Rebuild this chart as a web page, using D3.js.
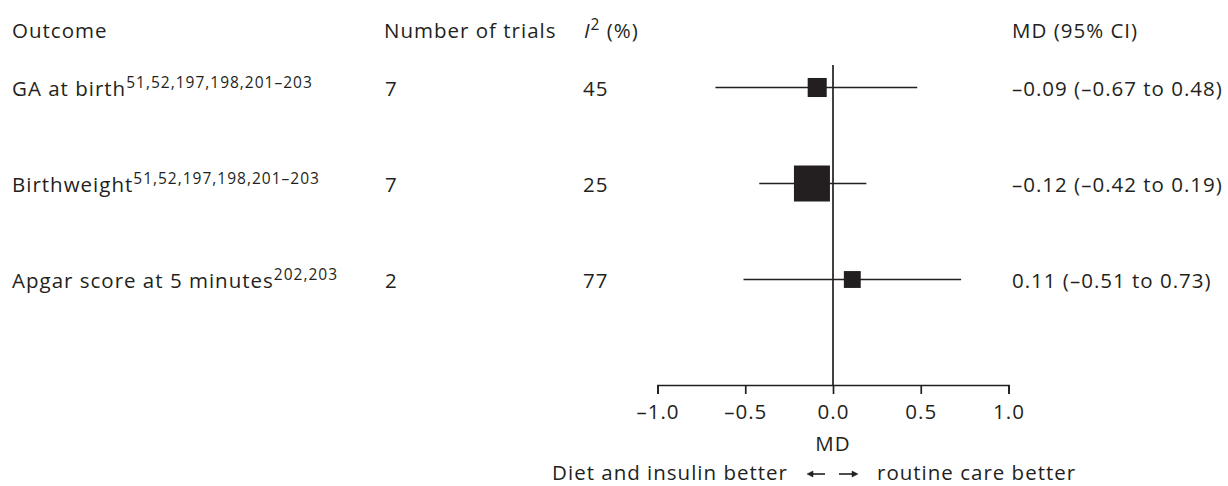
<!DOCTYPE html>
<html>
<head>
<meta charset="utf-8">
<script src="https://cdn.jsdelivr.net/npm/d3@7"></script>
<style>
  html, body { margin: 0; padding: 0; background: #fff; }
  text { font-family: "Open Sans", "DejaVu Sans", sans-serif; fill: #231f20; letter-spacing: 1px; }
</style>
</head>
<body>
<svg id="chart" width="1228" height="486"></svg>
<script>
const outcomes = ["GA at birth", "Birthweight", "Apgar score at 5 minutes"];
const references = ["51,52,197,198,201–203", "51,52,197,198,201–203", "202,203"];
const trials = [7, 7, 2];
const i2 = [45, 25, 77];
const md = [-0.09, -0.12, 0.11];
const lower = [-0.67, -0.42, -0.51];
const upper = [0.48, 0.19, 0.73];
const weights = [28, 100, 22];
const tickValues = [-1.0, -0.5, 0.0, 0.5, 1.0];
const headers = ["Outcome", "Number of trials", "(%)", "MD (95% CI)"];
const axisTitle = "MD";
const leftLabel = "Diet and insulin better";
const rightLabel = "routine care better";

const FS = 20.5;
const SUP = 15.5;
const ink = "#231f20";
const svg = d3.select("#chart");

const x = d3.scaleLinear().domain([-1, 1]).range([657.5, 1008.5]);
const y = d3.scalePoint().domain(outcomes).range([87.5, 279.5]);
const side = d3.scaleSqrt().domain([0, 100]).range([0, 36]);
const axisY = 385;

const fmt2 = v => d3.format(".2f")(v).replace("−", "–").replace("-", "–");

// headers
const hy = 37.5;
svg.append("text").attr("x", 12).attr("y", hy).attr("font-size", FS).text(headers[0]);
svg.append("text").attr("x", 384).attr("y", hy).attr("font-size", FS).text(headers[1]);
const ih = svg.append("text").attr("x", 584).attr("y", hy).attr("font-size", FS);
ih.append("tspan").attr("font-style", "italic").text("I");
ih.append("tspan").attr("font-size", SUP).attr("dy", -8).text("2");
ih.append("tspan").attr("dy", 8).text(" " + headers[2]);
svg.append("text").attr("x", 1012).attr("y", hy).attr("font-size", FS).text(headers[3]);

// rows
outcomes.forEach((o, i) => {
  const yy = y(o);
  const t = svg.append("text").attr("x", 12).attr("y", yy + 8).attr("font-size", FS);
  t.append("tspan").text(o);
  t.append("tspan").attr("font-size", SUP).attr("dy", -8).text(references[i]);
  svg.append("text").attr("x", 385).attr("y", yy + 8).attr("font-size", FS).text(trials[i]);
  svg.append("text").attr("x", 583).attr("y", yy + 8).attr("font-size", FS).text(i2[i]);
  svg.append("text").attr("x", 1012).attr("y", yy + 8).attr("font-size", FS)
    .text(`${fmt2(md[i])} (${fmt2(lower[i])} to ${fmt2(upper[i])})`);
});

// zero line
svg.append("line")
  .attr("x1", x(0)).attr("x2", x(0))
  .attr("y1", 65).attr("y2", axisY)
  .attr("stroke", ink).attr("stroke-width", 1.7);

// CI lines
svg.selectAll("line.ci").data(outcomes).enter().append("line")
  .attr("class", "ci")
  .attr("x1", (d, i) => x(lower[i])).attr("x2", (d, i) => x(upper[i]))
  .attr("y1", d => y(d)).attr("y2", d => y(d))
  .attr("stroke", ink).attr("stroke-width", 1.7);

// squares
svg.selectAll("rect.pt").data(outcomes).enter().append("rect")
  .attr("class", "pt")
  .attr("x", (d, i) => x(md[i]) - side(weights[i]) / 2)
  .attr("y", (d, i) => y(d) - side(weights[i]) / 2)
  .attr("width", (d, i) => side(weights[i]))
  .attr("height", (d, i) => side(weights[i]))
  .attr("fill", ink);

// axis
const axis = d3.axisBottom(x).tickValues(tickValues).tickSize(9).tickSizeOuter(9)
  .tickFormat(d => d3.format(".1f")(d).replace("−", "–"));
const ag = svg.append("g").attr("transform", `translate(0,${axisY})`).call(axis);
ag.selectAll("path, line").attr("stroke", ink).attr("stroke-width", 1.7);
ag.selectAll("text").attr("font-size", FS).attr("font-family", '"Open Sans", "DejaVu Sans", sans-serif')
  .attr("fill", ink).attr("y", 34).attr("dy", 0);

svg.append("text").attr("x", x(0)).attr("y", 451).attr("text-anchor", "middle")
  .attr("font-size", FS).text(axisTitle);

// direction labels with arrows
svg.append("text").attr("x", 788).attr("y", 480).attr("text-anchor", "end")
  .attr("font-size", FS).text(leftLabel);
svg.append("text").attr("x", 877).attr("y", 480).attr("text-anchor", "start")
  .attr("font-size", FS).text(rightLabel);
const arrowY = 474;
const arrows = svg.append("g").attr("stroke", ink).attr("fill", ink).attr("stroke-width", 1.6);
arrows.append("line").attr("x1", 809).attr("x2", 825).attr("y1", arrowY).attr("y2", arrowY);
arrows.append("path").attr("d", `M807,${arrowY}L813,${arrowY - 3}L813,${arrowY + 3}Z`).attr("stroke-width", 0.5);
arrows.append("line").attr("x1", 839).attr("x2", 856).attr("y1", arrowY).attr("y2", arrowY);
arrows.append("path").attr("d", `M858,${arrowY}L852,${arrowY - 3}L852,${arrowY + 3}Z`).attr("stroke-width", 0.5);
</script>
</body>
</html>
